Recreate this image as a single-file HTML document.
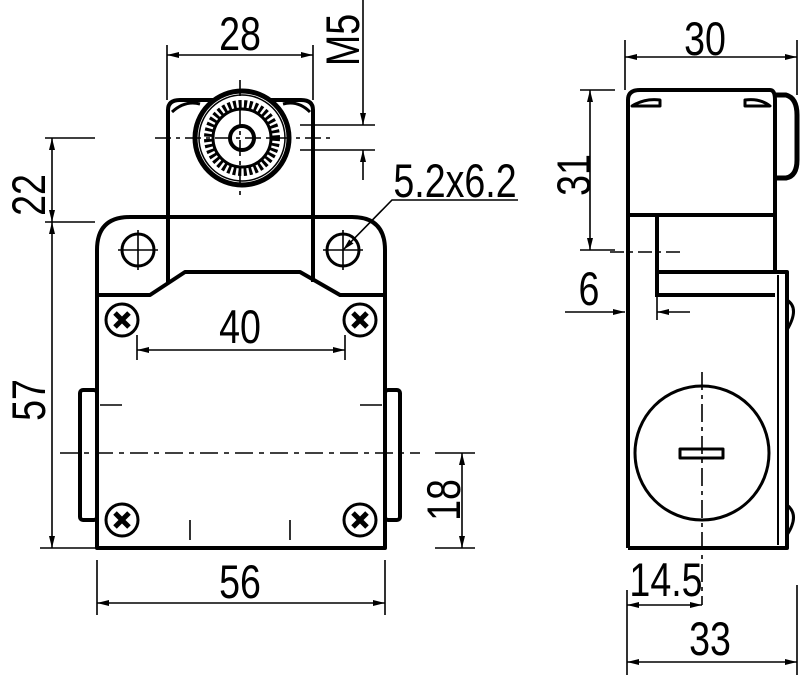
<!DOCTYPE html>
<html><head><meta charset="utf-8"><style>html,body{margin:0;padding:0;background:#fff}svg{display:block}</style></head>
<body>
<svg width="800" height="675" viewBox="0 0 800 675" xmlns="http://www.w3.org/2000/svg" font-family="Liberation Sans, sans-serif" font-size="36" fill="none" stroke="#000">
<defs>
<marker id="a" viewBox="0 0 12 6" refX="12" refY="3" markerWidth="12" markerHeight="6" orient="auto-start-reverse" markerUnits="userSpaceOnUse"><path d="M0,0 L12,3 L0,6z" fill="#000" stroke="none"/></marker>
</defs>
<g stroke-width="4" stroke-linejoin="round">
<path d="M97,548 V250 Q97,217 130,217 H352 Q385,217 385,250 V548 H97Z"/>
<path d="M168,217 V110 Q168,100 180,100 H301 Q313,100 313,110 V217"/>
<path d="M168,217 V282 M313,217 V282"/>
<path d="M97,295 H150 L185,272 H300 L340,295 H385"/>
<path d="M172,112 Q185,100 200,104 M283,104 Q298,100 310,112" stroke-width="3"/>
<rect x="80" y="390" width="17" height="130" rx="3"/>
<rect x="385" y="390" width="15" height="130" rx="3"/>
<circle cx="242" cy="138" r="47" fill="#fff" stroke-width="5"/>
<circle cx="242" cy="138" r="43" stroke-width="1.5"/>
<circle cx="242" cy="138" r="34" stroke-width="8" stroke-dasharray="3 2.4"/>
<circle cx="242" cy="138" r="29" stroke-width="3"/>
<circle cx="242" cy="138" r="12" stroke-width="4"/>
<circle cx="138" cy="250" r="16" stroke-width="3"/>
<circle cx="343" cy="250" r="16" stroke-width="3"/>
<g stroke-width="3">
<circle cx="122" cy="320" r="16"/><circle cx="360" cy="320" r="16"/><circle cx="122" cy="520" r="16"/><circle cx="360" cy="520" r="16"/>
</g>
<g stroke-width="5">
<path d="M115,313 l14,14 M129,313 l-14,14 M353,313 l14,14 M367,313 l-14,14 M115,513 l14,14 M129,513 l-14,14 M353,513 l14,14 M367,513 l-14,14"/>
</g>
<path d="M628,548 V100 Q628,90 640,90 H770 Q775,90 775,100 V272"/>
<path d="M632,106 Q645,98 660,100 V106 Z M745,100 Q760,98 770,106 H745 Z" stroke-width="3"/>
<path d="M775,95 H786 Q797,98 797,115 V160 Q797,176 786,178 H775" stroke-width="5"/>
<path d="M628,215 H775 M657,215 V297 M657,272 H775 M657,295 H775"/>
<path d="M775,272 H787 V548 H628"/>
<path d="M778,275 V545" stroke-width="2"/>
<path d="M787,300 Q800,308 787,330 M787,505 Q800,515 787,535" stroke-width="3"/>
<circle cx="702" cy="453" r="67" stroke-width="3"/>
<rect x="680" y="449" width="43" height="9" stroke-width="3"/>
</g>
<g stroke-width="1.6">
<path d="M155,138 H330 M240,80 V200" stroke-dasharray="16 5 4 5"/>
<path d="M45,138 H95 M45,222 H95"/>
<path d="M300,125 H375 M300,150 H375"/>
<path d="M363,0 V125" marker-end="url(#a)"/>
<path d="M363,180 V150" marker-end="url(#a)"/>
<path d="M167,45 V100 M313,45 V100"/>
<path d="M167,55 H313" marker-start="url(#a)" marker-end="url(#a)"/>
<path d="M52,138 V222" marker-start="url(#a)" marker-end="url(#a)"/>
<path d="M52,222 V548" marker-start="url(#a)" marker-end="url(#a)"/>
<path d="M40,548 H97"/>
<path d="M118,250 H158 M138,230 V270 M323,250 H363 M343,230 V270"/>
<path d="M518,200 H392 L343,250" marker-end="url(#a)"/>
<path d="M137,335 V360 M345,335 V360"/>
<path d="M137,350 H345" marker-start="url(#a)" marker-end="url(#a)"/>
<path d="M60,453 H420" stroke-dasharray="18 6 5 6"/>
<path d="M100,405 H122 M360,405 H382 M190,520 V540 M290,520 V540"/>
<path d="M97,560 V615 M385,560 V615"/>
<path d="M97,603 H385" marker-start="url(#a)" marker-end="url(#a)"/>
<path d="M435,548 H475 M435,453 H475"/>
<path d="M462,453 V548" marker-start="url(#a)" marker-end="url(#a)"/>
<path d="M625,40 V90 M797,40 V95"/>
<path d="M625,57 H797" marker-start="url(#a)" marker-end="url(#a)"/>
<path d="M580,90 H615 M580,250 H615"/>
<path d="M590,90 V250" marker-start="url(#a)" marker-end="url(#a)"/>
<path d="M610,252 H685" stroke-dasharray="14 5 4 5"/>
<path d="M657,297 V320"/>
<path d="M565,312 H625" marker-end="url(#a)"/>
<path d="M690,312 H657" marker-end="url(#a)"/>
<path d="M702,372 V605" stroke-dasharray="18 5 4 5"/>
<path d="M627,590 V675 M797,585 V675"/>
<path d="M627,605 H702" marker-start="url(#a)" marker-end="url(#a)"/>
<path d="M627,662 H797" marker-start="url(#a)" marker-end="url(#a)"/>
</g>
<g fill="#000" stroke="none" font-size="47" text-anchor="middle">
<text transform="translate(240,50) scale(0.8,1)">28</text>
<text transform="translate(359,40) rotate(-90) scale(0.8,1)">M5</text>
<text transform="translate(45,195) rotate(-90) scale(0.8,1)">22</text>
<text transform="translate(45,400) rotate(-90) scale(0.8,1)">57</text>
<text transform="translate(455,197) scale(0.8,1)">5.2x6.2</text>
<text transform="translate(240,343) scale(0.8,1)">40</text>
<text transform="translate(240,598) scale(0.8,1)">56</text>
<text transform="translate(460,500) rotate(-90) scale(0.8,1)">18</text>
<text transform="translate(705,55) scale(0.8,1)">30</text>
<text transform="translate(590,175) rotate(-90) scale(0.8,1)">31</text>
<text transform="translate(589,305) scale(0.8,1)">6</text>
<text transform="translate(666,596) scale(0.8,1)">14.5</text>
<text transform="translate(710,655) scale(0.8,1)">33</text>
</g>
</svg>
</body></html>
